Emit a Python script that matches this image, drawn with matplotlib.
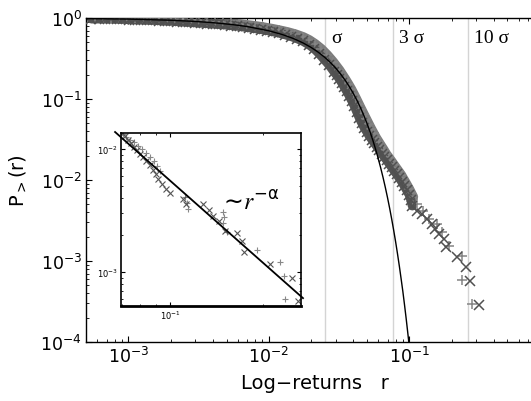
import matplotlib
matplotlib.use('Agg')
import matplotlib.pyplot as plt
from matplotlib.ticker import NullFormatter

plt.rcParams['font.family'] = ['DejaVu Sans']
plt.rcParams['mathtext.default'] = 'regular'

# main panel, data set 1 (x markers): return r and P_>(r)
r_cross = [5.46e-4, 6.22e-4, 6.86e-4, 7.57e-4, 8.35e-4, 9.21e-4, 1.016e-3,
           1.122e-3, 1.239e-3, 1.366e-3, 1.507e-3, 1.663e-3, 1.834e-3,
           2.023e-3, 2.23e-3, 2.46e-3, 2.72e-3, 3.00e-3, 3.31e-3, 3.65e-3,
           4.03e-3, 4.45e-3, 4.90e-3, 5.41e-3, 5.97e-3, 6.59e-3, 7.26e-3,
           8.02e-3, 8.85e-3, 9.75e-3, 1.076e-2, 1.188e-2, 1.310e-2,
           1.445e-2, 1.596e-2, 1.76e-2, 1.94e-2, 2.11e-2, 2.29e-2, 2.48e-2,
           2.70e-2, 2.92e-2, 3.05e-2, 3.18e-2, 3.31e-2, 3.44e-2, 3.59e-2,
           3.74e-2, 3.90e-2, 4.06e-2, 4.23e-2, 4.41e-2, 4.59e-2, 4.79e-2,
           4.99e-2, 5.19e-2, 5.41e-2, 5.64e-2, 5.87e-2, 6.11e-2, 6.37e-2,
           6.64e-2, 6.92e-2, 7.21e-2, 7.50e-2, 7.82e-2, 8.15e-2, 8.49e-2,
           8.85e-2, 9.21e-2, 9.60e-2, 0.100, 0.1025, 0.1051, 0.1140, 0.1237,
           0.1343, 0.1458, 0.1531, 0.1635, 0.1774, 0.1834, 0.2196, 0.2545,
           0.2718, 0.3149]
p_cross = [0.972, 0.972, 0.972, 0.972, 0.966, 0.961, 0.955, 0.950, 0.945,
           0.939, 0.934, 0.926, 0.918, 0.911, 0.903, 0.893, 0.882, 0.872,
           0.863, 0.853, 0.843, 0.831, 0.820, 0.806, 0.792, 0.774, 0.757,
           0.738, 0.719, 0.699, 0.675, 0.649, 0.620, 0.589, 0.553, 0.513,
           0.464, 0.414, 0.359, 0.307, 0.259, 0.215, 0.195, 0.1766, 0.1575,
           0.1406, 0.1238, 0.1089, 0.0945, 0.0819, 0.0691, 0.0583, 0.0505,
           0.0438, 0.0391, 0.0349, 0.0316, 0.0286, 0.0259, 0.0235, 0.0212,
           0.0192, 0.0174, 0.0158, 0.01427, 0.01291, 0.01169, 0.01059,
           0.00945, 0.00843, 0.00742, 0.00653, 0.00566, 0.00478, 0.00414,
           0.00380, 0.00330, 0.00287, 0.00248, 0.00215, 0.00187, 0.00149,
           0.00112, 8.43e-4, 5.66e-4, 2.86e-4]

# main panel, data set 2 (+ markers)
r_plus = [5.82e-4, 6.64e-4, 7.57e-4, 8.63e-4, 9.84e-4, 1.122e-3, 1.279e-3,
          1.459e-3, 1.663e-3, 1.895e-3, 2.16e-3, 2.46e-3, 2.81e-3, 3.20e-3,
          3.65e-3, 4.16e-3, 4.74e-3, 5.41e-3, 6.17e-3, 7.03e-3, 8.02e-3,
          9.14e-3, 1.042e-2, 1.188e-2, 1.354e-2, 1.545e-2, 1.76e-2, 1.94e-2,
          2.14e-2, 2.37e-2, 2.61e-2, 2.88e-2, 3.18e-2, 3.50e-2, 3.68e-2,
          3.86e-2, 4.03e-2, 4.20e-2, 4.37e-2, 4.55e-2, 4.74e-2, 4.94e-2,
          5.15e-2, 5.37e-2, 5.59e-2, 5.82e-2, 6.07e-2, 6.32e-2, 6.59e-2,
          6.86e-2, 7.15e-2, 7.45e-2, 7.76e-2, 8.08e-2, 8.42e-2, 8.77e-2,
          9.06e-2, 9.37e-2, 9.68e-2, 0.100, 0.1033, 0.1068, 0.1140, 0.1258,
          0.1388, 0.1582, 0.1718, 0.1927, 0.2385, 0.2385, 0.2808]
p_plus = [1.0, 1.0, 1.0, 1.0, 1.0, 0.998, 0.996, 0.994, 0.992, 0.989, 0.977,
          0.964, 0.950, 0.934, 0.918, 0.900, 0.882, 0.863, 0.843, 0.820,
          0.797, 0.770, 0.740, 0.707, 0.672, 0.631, 0.582, 0.535, 0.478,
          0.414, 0.349, 0.286, 0.228, 0.1766, 0.1532, 0.1329, 0.1153, 0.100,
          0.0868, 0.0752, 0.0653, 0.0566, 0.0491, 0.0426, 0.0375, 0.0330,
          0.0294, 0.0263, 0.0235, 0.0209, 0.01896, 0.0172, 0.01553, 0.01407,
          0.01273, 0.01153, 0.01043, 0.00945, 0.00855, 0.00774, 0.00691,
          0.00617, 0.00506, 0.00414, 0.00330, 0.00287, 0.00228, 0.00153,
          0.00115, 5.82e-4, 2.94e-4]

# number of points in the dense (overlapping) part of each set
n_dense_cross = 74
n_dense_plus = 62

# Gaussian reference curve (black line)
r_gauss = [5e-4, 7e-4, 1e-3, 2e-3, 3e-3, 4e-3, 5.5e-3, 7e-3, 0.01, 0.0125,
           0.015, 0.0175, 0.02, 0.0225, 0.025, 0.0275, 0.03, 0.0325, 0.035,
           0.0375, 0.04, 0.0425, 0.045, 0.0475, 0.05, 0.0525, 0.055, 0.0575,
           0.06, 0.0625, 0.065, 0.0675, 0.07, 0.0725, 0.075, 0.0775, 0.08,
           0.0825, 0.085, 0.0875, 0.09, 0.0925, 0.095, 0.0975, 0.1]
p_gauss = [0.984, 0.978, 0.969, 0.9375, 0.906, 0.875, 0.829, 0.784, 0.695,
           0.624, 0.557, 0.4926, 0.433, 0.3776, 0.327, 0.281, 0.2396, 0.2024,
           0.1698, 0.1414, 0.1166, 0.0956, 0.0776, 0.0624, 0.0499, 0.0395,
           0.0310, 0.02414, 0.01862, 0.01424, 0.0108, 0.00812, 0.00605,
           0.00447, 0.00327, 0.002374, 0.00171, 0.001216, 8.6e-4, 6.0e-4,
           4.2e-4, 2.87e-4, 1.95e-4, 1.31e-4, 8.8e-5]

# sigma markers
sigma_pos = [0.0253, 0.0769, 0.263]
sigma_labels = ['σ', '3 σ', '10 σ']

# inset: zoom on the tail with power-law fit
ri_cross = [0.0700, 0.0716, 0.0732, 0.0749, 0.0765, 0.0782, 0.0800, 0.0818,
            0.0837, 0.0862, 0.0882, 0.0901, 0.0915, 0.0942, 0.0971, 0.100,
            0.1101, 0.1126, 0.1278, 0.1336, 0.1376, 0.1439, 0.1505, 0.1645,
            0.1708, 0.1733, 0.2102, 0.2475, 0.2588]
pi_cross = [0.01349, 0.01276, 0.01184, 0.01119, 0.01038, 0.00981, 0.00911,
            0.00861, 0.00799, 0.00741, 0.00675, 0.00626, 0.00570, 0.00519,
            0.00473, 0.00439, 0.00392, 0.00357, 0.00357, 0.00319, 0.00285,
            0.00260, 0.00215, 0.00207, 0.00179, 0.00145, 0.001161, 8.94e-4,
            5.81e-4]
ri_plus = [0.0705, 0.0721, 0.0743, 0.0765, 0.0789, 0.0812, 0.0837, 0.0862,
           0.0888, 0.0908, 0.0928, 0.1118, 0.1135, 0.1143, 0.1483, 0.1494,
           0.1483, 0.1527, 0.1909, 0.2264, 0.2333, 0.2350]
pi_plus = [0.01324, 0.01252, 0.01184, 0.01140, 0.01058, 0.0100, 0.00928,
           0.00861, 0.00799, 0.00727, 0.00663, 0.00407, 0.00364, 0.00325,
           0.00307, 0.00280, 0.00250, 0.00211, 0.00151, 0.001206, 9.28e-4,
           6.03e-4]
r_fit = [0.0665, 0.2685]
p_fit = [0.01375, 6.14e-4]

fig = plt.figure(figsize=(5.31, 4.02), dpi=100)
ax = fig.add_axes([0.1620, 0.1468, 0.8606, 0.8060])

for xv in sigma_pos:
    ax.axvline(xv, color='#d4d4d4', lw=1.0, zorder=1)

# the overlapping markers form a solid grey band where points are dense
ax.plot(r_plus[:n_dense_plus], p_plus[:n_dense_plus], color='#7c7c7c',
        lw=7, solid_capstyle='round', zorder=2)
ax.plot(r_cross[:n_dense_cross], p_cross[:n_dense_cross], color='#555555',
        lw=6.5, solid_capstyle='round', zorder=2)
ax.plot(r_plus, p_plus, ls='none', marker='+', ms=7.5, mew=1.1,
        color='#858585', zorder=3)
ax.plot(r_cross, p_cross, ls='none', marker='x', ms=7, mew=1.1,
        color='#505050', zorder=3)
ax.plot(r_gauss, p_gauss, color='black', lw=1.0, zorder=4)

for xv, lab in zip(sigma_pos, sigma_labels):
    ax.annotate(lab, xy=(xv, 1), xycoords=('data', 'axes fraction'),
                xytext=(4, -17), textcoords='offset points', va='baseline',
                ha='left', family='Liberation Serif', fontsize=14)

ax.set_xscale('log')
ax.set_yscale('log')
ax.set_xlim(5e-4, 0.895)
ax.set_ylim(1e-4, 1)
ax.tick_params(which='both', direction='in', top=True, right=True,
               labelsize=12.5)
ax.tick_params(which='major', length=4, pad=3)
ax.tick_params(which='minor', length=2)
ax.set_xlabel('Log\u2212returns   r', fontsize=14, labelpad=5)
ax.set_ylabel('P$_>$(r)', fontsize=14, labelpad=9)
for s in ax.spines.values():
    s.set_linewidth(1.0)

# inset
axi = fig.add_axes([0.2279, 0.2363, 0.3390, 0.4303])
axi.plot(ri_plus, pi_plus, ls='none', marker='+', ms=5, mew=0.8,
         color='#888888')
axi.plot(ri_cross, pi_cross, ls='none', marker='x', ms=4.5, mew=0.8,
         color='#555555')
axi.plot(r_fit, p_fit, color='black', lw=1.3, clip_on=False)
axi.set_xscale('log')
axi.set_yscale('log')
axi.set_xlim(0.0695, 0.2646)
axi.set_ylim(5.3e-4, 0.01349)
axi.xaxis.set_minor_formatter(NullFormatter())
axi.yaxis.set_minor_formatter(NullFormatter())
axi.tick_params(which='both', direction='in', top=True, right=True,
                labelsize=6, pad=2)
axi.tick_params(which='major', length=3)
axi.tick_params(which='minor', length=1.5)
for s in axi.spines.values():
    s.set_linewidth(1.2)
axi.spines['bottom'].set_linewidth(2.0)
axi.text(0.55, 0.56, r'$\sim\!\mathit{r}^{-\alpha}$',
         transform=axi.transAxes, fontsize=17, math_fontfamily='stix',
         va='baseline')

fig.savefig('out.png', dpi=100)
